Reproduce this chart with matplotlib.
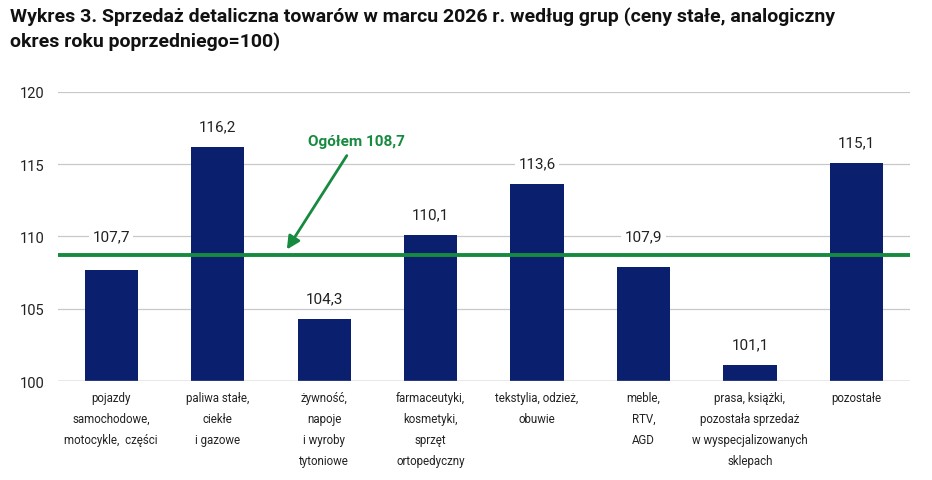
import matplotlib
matplotlib.use("Agg")
import matplotlib.pyplot as plt
import numpy as np

# ---- data ----
categories = [
    "pojazdy\nsamochodowe,\nmotocykle,  części",
    "paliwa stałe,\nciekłe\ni gazowe",
    "żywność,\nnapoje\ni wyroby\ntytoniowe",
    "farmaceutyki,\nkosmetyki,\nsprzęt\nortopedyczny",
    "tekstylia, odzież,\nobuwie",
    "meble,\nRTV,\nAGD",
    "prasa, książki,\npozostała sprzedaż\nw wyspecjalizowanych\nsklepach",
    "pozostałe",
]
values = [107.7, 116.2, 104.3, 110.1, 113.6, 107.9, 101.1, 115.1]
total = 108.7
yticks = [100, 105, 110, 115, 120]

title = ("Wykres 3. Sprzedaż detaliczna towarów w marcu 2026 r. według grup (ceny stałe, analogiczny\n"
         "okres roku poprzedniego=100)")

NAVY = "#0b1f6f"
GREEN = "#168a3f"
GRID = "#c8c8c8"

plt.rcParams["font.family"] = ["Roboto", "DejaVu Sans"]

fig = plt.figure(figsize=(9.32, 4.81), dpi=100)
ax = fig.add_axes([0.0622, 0.2058, 0.9138, 0.6009])

x = np.arange(len(values))
ax.bar(x, values, width=0.5, color=NAVY, bottom=0, zorder=2)
ax.set_ylim(100, 120)
ax.set_xlim(-0.5, len(values) - 0.5)

ax.set_yticks(yticks)
ax.set_yticklabels([str(t) for t in yticks], fontsize=10.5, color="#222222")
ax.tick_params(axis="y", length=0, pad=10)
ax.set_xticks(x)
ax.set_xticklabels(categories, fontsize=8.3, color="#222222", linespacing=1.8, va="top")
ax.tick_params(axis="x", length=0, pad=7)
for s in ["top", "right", "left", "bottom"]:
    ax.spines[s].set_visible(False)
ax.grid(axis="y", color=GRID, linewidth=0.9, zorder=0)
ax.axhline(100, color="#b0b0b0", linewidth=1.0, zorder=3)

# total line
ax.axhline(total, color=GREEN, linewidth=2.8, zorder=4)

# value labels (two lifted off the total line)
lifted = {0: 110.0, 5: 110.0}
for i, v in enumerate(values):
    yl = lifted.get(i, v + 1.45)
    ax.text(i, yl, f"{v:.1f}".replace(".", ","), ha="center", va="center",
            fontsize=11, color="#222222", zorder=5,
            bbox=dict(facecolor="white", edgecolor="none", pad=2.5))

ax.annotate(f"Ogółem {total:.1f}".replace(".", ","), xy=(1.65, 109.1), xytext=(2.3, 116.6),
            ha="center", va="center", fontsize=11, fontweight="bold", color=GREEN,
            arrowprops=dict(arrowstyle="-|>,head_length=0.7,head_width=0.35", color=GREEN,
                            lw=2.0, shrinkA=4, shrinkB=0), zorder=6)

fig.text(0.011, 0.985, title, ha="left", va="top", fontsize=14, fontweight="bold",
         color="#111111", linespacing=1.4)

fig.savefig("out.png", dpi=100, facecolor="white")
